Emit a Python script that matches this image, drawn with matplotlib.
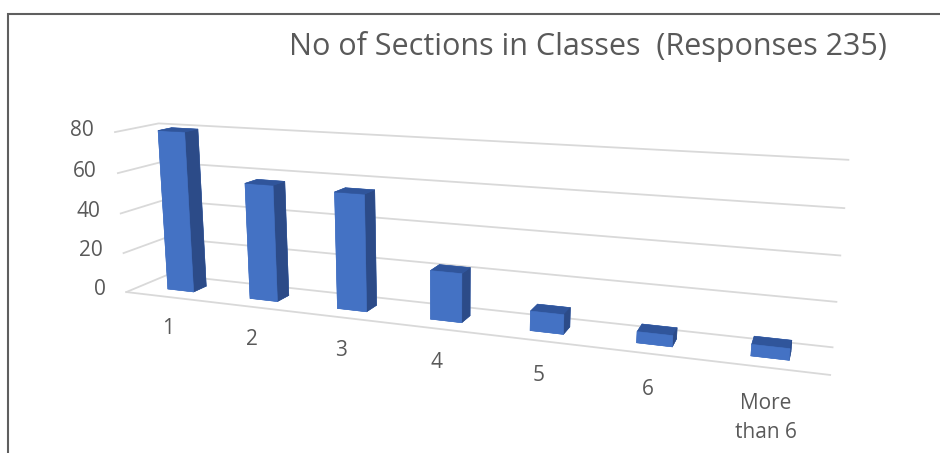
import matplotlib
matplotlib.use("Agg")
import matplotlib.pyplot as plt
import numpy as np
from matplotlib.patches import Rectangle
from mpl_toolkits.mplot3d import proj3d

# data
categories = ["1", "2", "3", "4", "5", "6", "More\nthan 6"]
counts = [80, 57, 56, 23, 9, 5, 5]
z_ticks = [0, 20, 40, 60, 80]
title = "No of Sections in Classes  (Responses 235)"

front_col = "#4472C4"
side_col = "#2C4B88"
top_col = "#30559B"
grid_col = "#D9D9D9"
text_col = "#595959"

plt.rcParams["font.family"] = ["Open Sans", "DejaVu Sans"]

fig = plt.figure(figsize=(9.4, 4.53), dpi=100)
ax = fig.add_axes([0.0767, -0.3489, 0.7838, 1.6265], projection="3d")
ax.set_proj_type("persp", focal_length=0.27)
ax.view_init(elev=13.06, azim=-69.46)
ax.set_box_aspect((7, 0.742, 1.69))

n = len(counts)
x = np.arange(n)
bar_w = 0.32
bar_d = 0.32

ax.set_xlim(-0.5, n - 0.5)
ax.set_ylim(0, 1)
ax.set_zlim(0, 80)
ax.set_axis_off()
ax.computed_zorder = False

# wall gridlines: left wall + back wall at each tick, then floor front edge
for z in z_ticks:
    ax.plot([-0.5, -0.5, n - 0.5], [0, 1, 1], [z, z, z], color=grid_col, lw=1.3,
            zorder=1, clip_on=False)
ax.plot([-0.5, n - 0.5], [0, 0], [0, 0], color=grid_col, lw=1.3, zorder=1, clip_on=False)

# face order in bar3d: bottom, top, front, back, left, right
faces = [front_col, top_col, front_col, front_col, front_col, side_col] * n
bars = ax.bar3d(x - bar_w / 2, 0.5 - bar_d / 2, 0, bar_w, bar_d, counts,
                color=faces, edgecolor=faces, linewidth=0.4, shade=False, zorder=3)
bars.set_clip_on(False)

# axis labels placed at their projected 3D anchor points
fig.canvas.draw()
M = ax.get_proj()


def label(xx, yy, zz, s, **kw):
    px, py, _ = proj3d.proj_transform(xx, yy, zz, M)
    ax.text2D(px, py, s, transform=ax.transData, color=text_col, **kw)


for z in z_ticks:
    label(-0.76, 0, z, str(z), ha="right", va="center", fontsize=15)
for i, lab in enumerate(categories):
    label(i, 0, -11, lab, ha="center", va="top", fontsize=15, linespacing=1.45)

fig.text(0.625, 0.897, title, ha="center", va="center", fontsize=22, color=text_col)

fig.add_artist(Rectangle((8 / 940, -0.1), 1.5, 1.1 - 13.5 / 453, transform=fig.transFigure,
                         fill=False, ec="#5f5f5f", lw=1.5))

fig.savefig("out.png", dpi=100)
